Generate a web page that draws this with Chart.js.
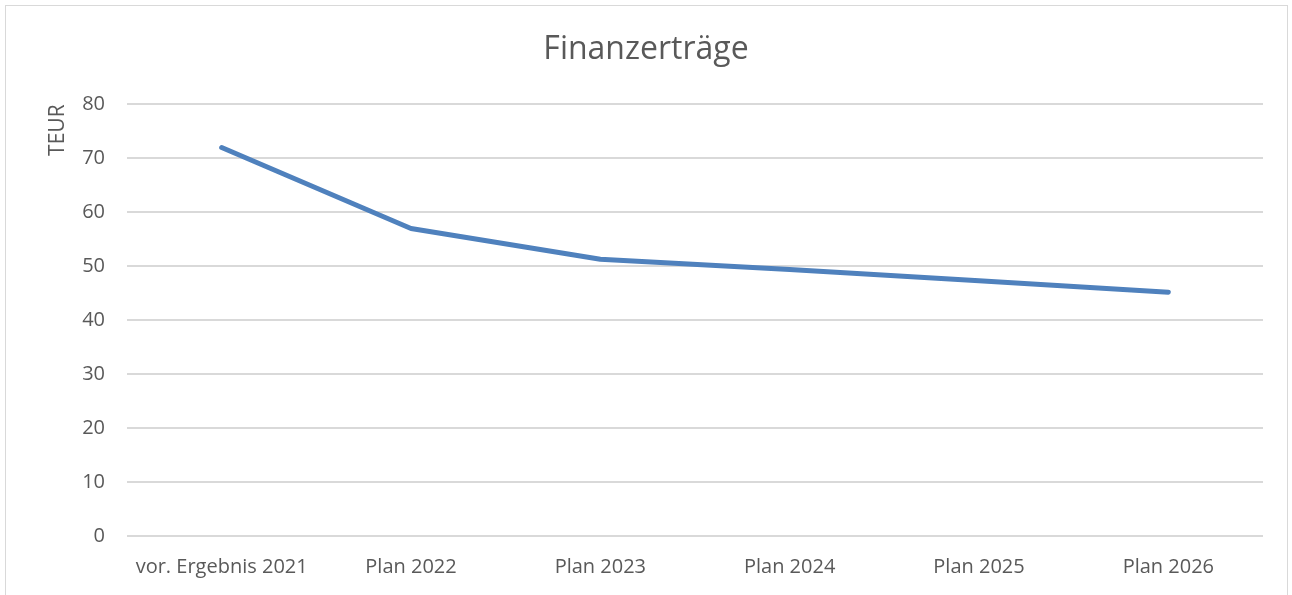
<!DOCTYPE html>
<html>
<head>
<meta charset="utf-8">
<script src="https://cdn.jsdelivr.net/npm/chart.js@4/dist/chart.umd.min.js"></script>
<style>
  html, body { margin: 0; padding: 0; background: #ffffff; overflow: hidden; }
  #wrap { position: absolute; left: 0; top: 0; width: 1292px; height: 595px; }
  #frame { position: absolute; left: 5px; top: 5px; width: 1281px; height: 600px; border: 1px solid #d9d9d9; pointer-events: none; }
</style>
</head>
<body>
<div id="wrap"><canvas id="c" width="1292" height="595"></canvas></div>
<div id="frame"></div>
<script>
const categories = ["vor. Ergebnis 2021", "Plan 2022", "Plan 2023", "Plan 2024", "Plan 2025", "Plan 2026"];
const finanzertraege = [72, 57, 51.3, 49.4, 47.3, 45.2];
const chartTitle = "Finanzerträge";
const yAxisTitle = "TEUR";
const yMin = 0, yMax = 80, yStep = 10;

const fontFamily = "'Open Sans', Lato, 'Liberation Sans', sans-serif";
const textColor = "#595959";

new Chart(document.getElementById("c"), {
  type: "line",
  data: {
    labels: categories,
    datasets: [{
      label: chartTitle,
      data: finanzertraege,
      borderColor: "#4f81bd",
      backgroundColor: "#4f81bd",
      borderWidth: 5,
      pointRadius: 0,
      pointHoverRadius: 0,
      tension: 0,
      borderCapStyle: "round",
      borderJoinStyle: "round",
      fill: false
    }]
  },
  options: {
    responsive: false,
    animation: false,
    devicePixelRatio: 1,
    layout: { padding: { left: 29, right: 29, top: 0, bottom: 0 } },
    plugins: {
      legend: { display: false },
      tooltip: { enabled: false },
      title: {
        display: true,
        text: chartTitle,
        color: textColor,
        font: { family: fontFamily, size: 32, weight: "normal" },
        padding: { top: 31, bottom: 35 }
      }
    },
    scales: {
      x: {
        type: "category",
        offset: true,
        grid: { display: false, drawTicks: false },
        border: { display: false },
        ticks: {
          color: textColor,
          font: { family: fontFamily, size: 20 },
          padding: 19,
          maxRotation: 0,
          autoSkip: false
        },
        afterFit: (scale) => { scale.height = 59; }
      },
      y: {
        min: yMin,
        max: yMax,
        grid: { color: "#d9d9d9", lineWidth: 2, drawTicks: false },
        border: { display: false },
        ticks: {
          stepSize: yStep,
          color: textColor,
          font: { family: fontFamily, size: 20 },
          padding: 22
        },
        title: {
          display: true,
          text: yAxisTitle,
          align: "end",
          color: textColor,
          font: { family: fontFamily, size: 21 },
          padding: { top: 16, bottom: 0 }
        },
        afterFit: (scale) => { scale.width = 98; }
      }
    }
  }
});
</script>
</body>
</html>
